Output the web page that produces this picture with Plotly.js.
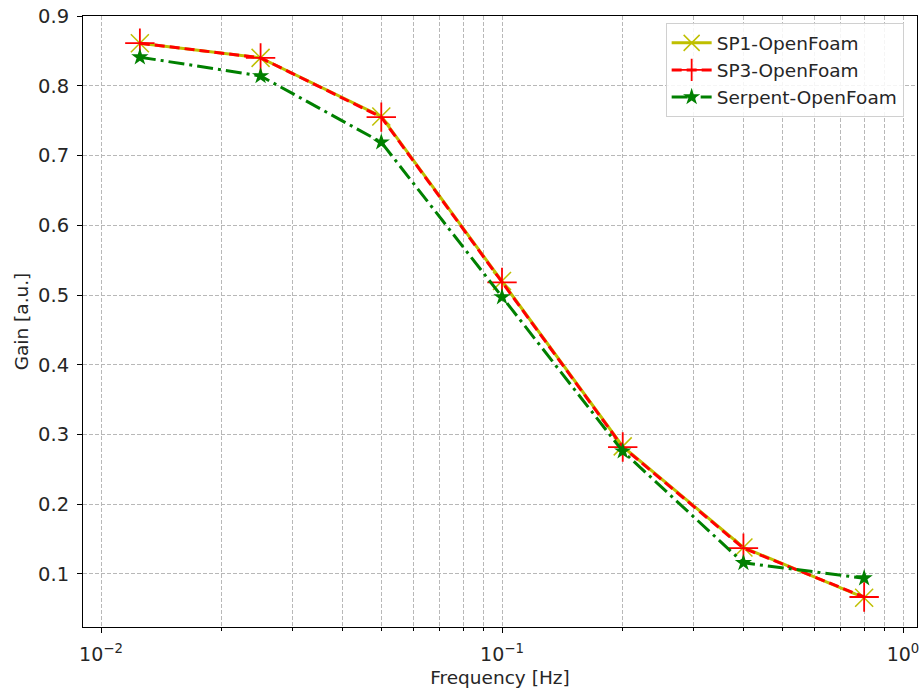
<!DOCTYPE html>
<html>
<head>
<meta charset="utf-8">
<script src="https://cdn.plot.ly/plotly-3.0.1.min.js"></script>
<style>html,body{margin:0;padding:0;background:#fff;}#chart{width:919px;height:697px;}</style>
</head>
<body>
<div id="chart"></div>
<script>
const frequency = [0.0125, 0.025, 0.05, 0.1, 0.2, 0.4, 0.8];
const sp1Gain = [0.861, 0.840, 0.756, 0.520, 0.283, 0.138, 0.066];
const sp3Gain = [0.861, 0.840, 0.755, 0.518, 0.282, 0.137, 0.067];
const serpentGain = [0.841, 0.814, 0.719, 0.497, 0.276, 0.116, 0.094];
const seriesNames = ['SP1-OpenFoam', 'SP3-OpenFoam', 'Serpent-OpenFoam'];
const xTickVals = [0.01, 0.1, 1];
const xTickText = ['10<sup>\u22122</sup>', '10<sup>\u22121</sup>', '10<sup>0</sup>'];
const yTickVals = [0.1, 0.2, 0.3, 0.4, 0.5, 0.6, 0.7, 0.8, 0.9];

const minorVals = [];
for (const dec of [0.001, 0.01, 0.1, 1]) {
  for (let k = 2; k <= 9; k++) minorVals.push(+(k * dec).toPrecision(3));
}

const font = {family: 'DejaVu Sans, sans-serif', size: 18.5, color: '#262626'};
const tickFont = {family: 'DejaVu Sans, sans-serif', size: 19.5, color: '#262626'};
const gridColor = '#b8b8b8';
const gridDash = '4px,2px';

const traces = [
  {
    x: frequency, y: sp1Gain, name: seriesNames[0], type: 'scatter', mode: 'lines+markers',
    line: {color: '#bfbf00', width: 3},
    marker: {symbol: 'x-thin', size: 18, line: {color: '#bfbf00', width: 1.5}, color: '#bfbf00'}
  },
  {
    x: frequency, y: sp3Gain, name: seriesNames[1], type: 'scatter', mode: 'lines+markers',
    line: {color: '#ff0000', width: 3, dash: '10px,5px'},
    marker: {symbol: 'cross-thin', size: 21, line: {color: '#ff0000', width: 1.8}, color: '#ff0000'}
  },
  {
    x: frequency, y: serpentGain, name: seriesNames[2], type: 'scatter', mode: 'lines+markers',
    line: {color: '#008000', width: 3, dash: '16px,5px,3px,5px'},
    marker: {symbol: 'star', size: 13, color: '#008000', line: {width: 0}}
  }
];

const layout = {
  width: 919, height: 697,
  margin: {l: 83, r: 2, t: 16, b: 70},
  paper_bgcolor: '#ffffff', plot_bgcolor: '#ffffff',
  font: font,
  showlegend: true,
  legend: {
    x: 0.984, y: 0.988, xanchor: 'right', yanchor: 'top',
    bgcolor: 'rgba(255,255,255,0.85)', bordercolor: '#d0d0d0', borderwidth: 1,
    font: font,
    itemwidth: 40
  },
  xaxis: {
    type: 'log',
    range: [-2.0449, 0.0349],
    tickmode: 'array', tickvals: xTickVals, ticktext: xTickText,
    ticks: 'outside', ticklen: 5, tickwidth: 1, tickcolor: '#000',
    ticklabelstandoff: 5, ticklabeloverflow: 'allow',
    showline: true, linecolor: '#000', linewidth: 1, mirror: true,
    showgrid: true, gridcolor: gridColor, griddash: gridDash, gridwidth: 1,
    zeroline: false,
    minor: {tickmode: 'array', tickvals: minorVals, ticks: 'outside', ticklen: 3, tickcolor: '#000',
            showgrid: true, gridcolor: gridColor, griddash: gridDash, gridwidth: 1},
    title: {text: 'Frequency [Hz]', font: font, standoff: 7},
    tickfont: {family: 'DejaVu Sans, sans-serif', size: 19, color: '#262626'}
  },
  yaxis: {
    range: [0.024, 0.9],
    tickmode: 'array', tickvals: yTickVals, ticktext: yTickVals.map(v => v.toFixed(1)),
    ticks: 'outside', ticklen: 5, tickwidth: 1, tickcolor: '#000',
    ticklabelstandoff: 4,
    showline: true, linecolor: '#000', linewidth: 1, mirror: true,
    showgrid: true, gridcolor: gridColor, griddash: gridDash, gridwidth: 1,
    zeroline: false,
    title: {text: 'Gain [a.u.]', font: font, standoff: 4},
    tickfont: tickFont
  }
};

Plotly.newPlot('chart', traces, layout, {staticPlot: true, displayModeBar: false});
</script>
</body>
</html>
